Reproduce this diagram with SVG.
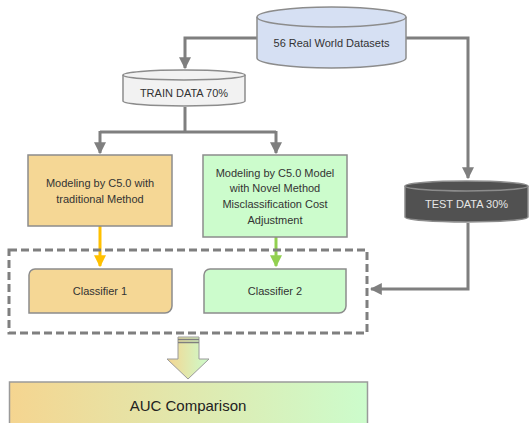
<svg xmlns="http://www.w3.org/2000/svg" width="530" height="423" viewBox="0 0 530 423">
  <defs>
    <style>
      .lbl { font-family: "Liberation Sans", Arial, sans-serif; font-size: 11px; fill: #333333; text-anchor: middle; }
      .edge { fill: none; stroke: #7f7f7f; stroke-width: 3; }
      .shape { stroke: #8c8c8c; stroke-width: 1.5; }
    </style>
    <marker id="ah" viewBox="0 0 10 10" refX="9" refY="5" markerWidth="4" markerHeight="4" orient="auto" markerUnits="strokeWidth">
      <path d="M0,0 L10,5 L0,10 z" fill="#7f7f7f"/>
    </marker>
    <marker id="ahY" viewBox="0 0 10 10" refX="9" refY="5" markerWidth="4" markerHeight="4" orient="auto" markerUnits="strokeWidth">
      <path d="M0,0 L10,5 L0,10 z" fill="#ffc000"/>
    </marker>
    <marker id="ahG" viewBox="0 0 10 10" refX="9" refY="5" markerWidth="4" markerHeight="4" orient="auto" markerUnits="strokeWidth">
      <path d="M0,0 L10,5 L0,10 z" fill="#92d050"/>
    </marker>
    <linearGradient id="blend" x1="0" y1="0" x2="1" y2="0">
      <stop offset="0" stop-color="#f5d590"/>
      <stop offset="1" stop-color="#ccfccc"/>
    </linearGradient>
  </defs>

  <!-- connectors -->
  <g id="connectors">
    <polyline class="edge" points="258,38 185,38 185,68" marker-end="url(#ah)"/>
    <polyline class="edge" points="405,38 468,38 468,178" marker-end="url(#ah)"/>
    <polyline class="edge" points="185,107 185,132"/>
    <polyline class="edge" points="100,132 276,132"/>
    <polyline class="edge" points="100,131 100,153" marker-end="url(#ah)"/>
    <polyline class="edge" points="276,131 276,153" marker-end="url(#ah)"/>
    <polyline class="edge" style="stroke:#ffc000" points="100,226 100,266" marker-end="url(#ahY)"/>
    <polyline class="edge" style="stroke:#92d050" points="276,237 276,266" marker-end="url(#ahG)"/>
    <polyline class="edge" points="468,223 468,289 371,289" marker-end="url(#ah)"/>
  </g>

  <!-- source datasets cylinder -->
  <g id="datasets">
    <path class="shape" fill="#d6e0f3" d="M257,17 A74.5,10 0 0 1 406,17 L406,58 A74.5,10 0 0 1 257,58 Z"/>
    <path class="shape" fill="none" d="M257,17 A74.5,10 0 0 0 406,17"/>
    <text class="lbl" x="331.5" y="47">56 Real World Datasets</text>
  </g>

  <!-- training split -->
  <g id="train">
    <path class="shape" fill="#f2f2f2" d="M123,75 A61,5 0 0 1 245,75 L245,101 A61,5 0 0 1 123,101 Z"/>
    <path class="shape" fill="none" d="M123,75 A61,5 0 0 0 245,75"/>
    <text class="lbl" x="184" y="97">TRAIN DATA 70%</text>
  </g>

  <!-- test split -->
  <g id="test">
    <path class="shape" fill="#515151" d="M405,186 A61.5,5 0 0 1 528,186 L528,217 A61.5,5 0 0 1 405,217 Z"/>
    <path class="shape" fill="none" d="M405,186 A61.5,5 0 0 0 528,186"/>
    <text class="lbl" x="466.5" y="208" style="fill:#e6e6e6">TEST DATA 30%</text>
  </g>

  <!-- traditional model -->
  <g id="model-traditional">
    <rect class="shape" x="28" y="155" width="144" height="71" fill="#f5d795"/>
    <text class="lbl" x="100" y="187">Modeling by C5.0 with</text>
    <text class="lbl" x="100" y="203">traditional Method</text>
  </g>

  <!-- novel model -->
  <g id="model-novel">
    <rect class="shape" x="203" y="155" width="144" height="82" fill="#ccfccc"/>
    <text class="lbl" x="275" y="177">Modeling by C5.0 Model</text>
    <text class="lbl" x="275" y="192">with Novel Method</text>
    <text class="lbl" x="275" y="208">Misclassification Cost</text>
    <text class="lbl" x="275" y="224">Adjustment</text>
  </g>

  <!-- classifier group frame -->
  <g id="classifiers">
    <rect x="9" y="250" width="358" height="83" fill="none" stroke="#7f7f7f" stroke-width="3" stroke-dasharray="8,4"/>
  </g>

  <g id="classifier-1">
    <path class="shape" fill="#f5d795" d="M35,269 L172,269 L172,306 A7,7 0 0 1 165,313 L29,313 L29,275 A6,6 0 0 1 35,269 Z"/>
    <text class="lbl" x="100" y="295">Classifier 1</text>
  </g>

  <g id="classifier-2">
    <path class="shape" fill="#ccfccc" d="M210,269 L346,269 L346,306 A7,7 0 0 1 339,313 L204,313 L204,275 A6,6 0 0 1 210,269 Z"/>
    <text class="lbl" x="275" y="295">Classifier 2</text>
  </g>

  <!-- result flow arrow -->
  <g id="flow-arrow">
    <path d="M178,337 L199,337 L199,359 L209,359 L188,379 L167,359 L178,359 Z" fill="url(#blend)" stroke="#9a9a9a" stroke-width="1"/>
    <line x1="178" y1="339.5" x2="199" y2="339.5" stroke="#7f7f7f" stroke-width="1.5"/>
    <line x1="178" y1="342.5" x2="199" y2="342.5" stroke="#7f7f7f" stroke-width="1.5"/>
  </g>

  <!-- comparison -->
  <g id="auc">
    <rect x="9.5" y="382" width="358" height="50" fill="url(#blend)" stroke="#9a9a9a" stroke-width="1.5"/>
    <text class="lbl" x="188" y="411" style="font-size:15px;fill:#222222">AUC Comparison</text>
  </g>
</svg>
